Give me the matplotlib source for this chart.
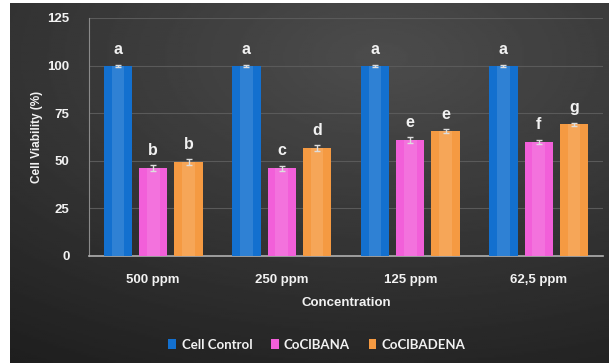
import numpy as np
import matplotlib.pyplot as plt

# data
concentrations = ["500 ppm", "250 ppm", "125 ppm", "62,5 ppm"]
series_names = ["Cell Control", "CoClBANA", "CoClBADENA"]
control = [100, 100, 100, 100]
bana = [46.2, 46.0, 60.8, 60.0]
badena = [49.3, 56.7, 65.6, 69.3]
control_err = [0.5, 0.5, 0.5, 0.5]
bana_err = [1.5, 1.5, 1.5, 1.0]
badena_err = [1.5, 1.5, 1.0, 0.8]
control_letters = ["a", "a", "a", "a"]
bana_letters = ["b", "c", "e", "f"]
badena_letters = ["b", "d", "e", "g"]

colors = ["#1370cf", "#f25fd9", "#f59a42"]
txt = "#f2f2f2"

plt.rcParams.update({
    "font.family": ["Liberation Sans", "DejaVu Sans"],
    "font.weight": "bold",
})

fig = plt.figure(figsize=(6.09, 3.63), dpi=100)
fig.patch.set_facecolor("white")

# dark gradient background
bg = fig.add_axes([10 / 609, 0, 599 / 609, 360 / 363])
yy, xx = np.mgrid[0:1:200j, 0:1:300j]
dist = np.sqrt(((xx - 0.62) / 1.0) ** 2 + ((yy - 0.15) / 0.9) ** 2)
shade = 0.30 - 0.16 * np.clip(dist, 0, 1.2)
bg.imshow(shade, cmap="gray", vmin=0, vmax=1, aspect="auto",
          extent=[0, 1, 0, 1], origin="upper")
bg.set_axis_off()

ax = fig.add_axes([89 / 609, 1 - 256 / 363, 514 / 609, 238 / 363])
ax.patch.set_alpha(0)

x = np.arange(len(concentrations))
w = 0.22
step = 0.275
groups = [
    (control, control_err, control_letters),
    (bana, bana_err, bana_letters),
    (badena, badena_err, badena_letters),
]
for i, (vals, errs, letters) in enumerate(groups):
    pos = x + (i - 1) * step
    ax.bar(pos, vals, width=w, color=colors[i], label=series_names[i], zorder=3)
    # lighter centre strip for the shiny look
    ax.bar(pos, vals, width=w * 0.45, color="white", alpha=0.12, zorder=3)
    ax.errorbar(pos, vals, yerr=errs, fmt="none", ecolor="#dddddd",
                elinewidth=1, capsize=2.5, capthick=1, zorder=4)
    for p, v, e, let in zip(pos, vals, errs, letters):
        ax.text(p, v + e + 4, let, ha="center", va="bottom",
                color=txt, fontsize=11.5, fontweight="bold")

ax.set_ylim(0, 125)
ax.set_yticks([0, 25, 50, 75, 100, 125])
ax.set_xlim(-0.5, 3.5)
ax.set_xticks(x)
ax.set_xticklabels(concentrations)
ax.grid(axis="y", color="#5a5a5a", linewidth=0.8, zorder=0)
ax.tick_params(axis="both", length=0, colors=txt, labelsize=9.5)
ax.tick_params(axis="x", pad=13)
ax.tick_params(axis="y", pad=14)
for s in ["top", "right"]:
    ax.spines[s].set_visible(False)
ax.spines["left"].set_color("#8a8a8a")
ax.spines["bottom"].set_color("#b0b0b0")
ax.spines["bottom"].set_linewidth(1.2)

ax.set_ylabel("Cell Viability (%)", color=txt, fontsize=8.5, fontweight="bold",
              labelpad=3)
ax.set_xlabel("Concentration", color=txt, fontsize=9.5, fontweight="bold",
              labelpad=8)

leg = fig.legend(loc="center", bbox_to_anchor=(317 / 609, 1 - 345 / 363),
                 ncol=3, frameon=False, handlelength=0.6, handleheight=0.8,
                 handletextpad=0.4, columnspacing=1.4,
                 prop={"family": "Lato", "size": 9.5, "weight": "bold"})
for t in leg.get_texts():
    t.set_color(txt)

fig.savefig("out.png", dpi=100, facecolor=fig.get_facecolor())
